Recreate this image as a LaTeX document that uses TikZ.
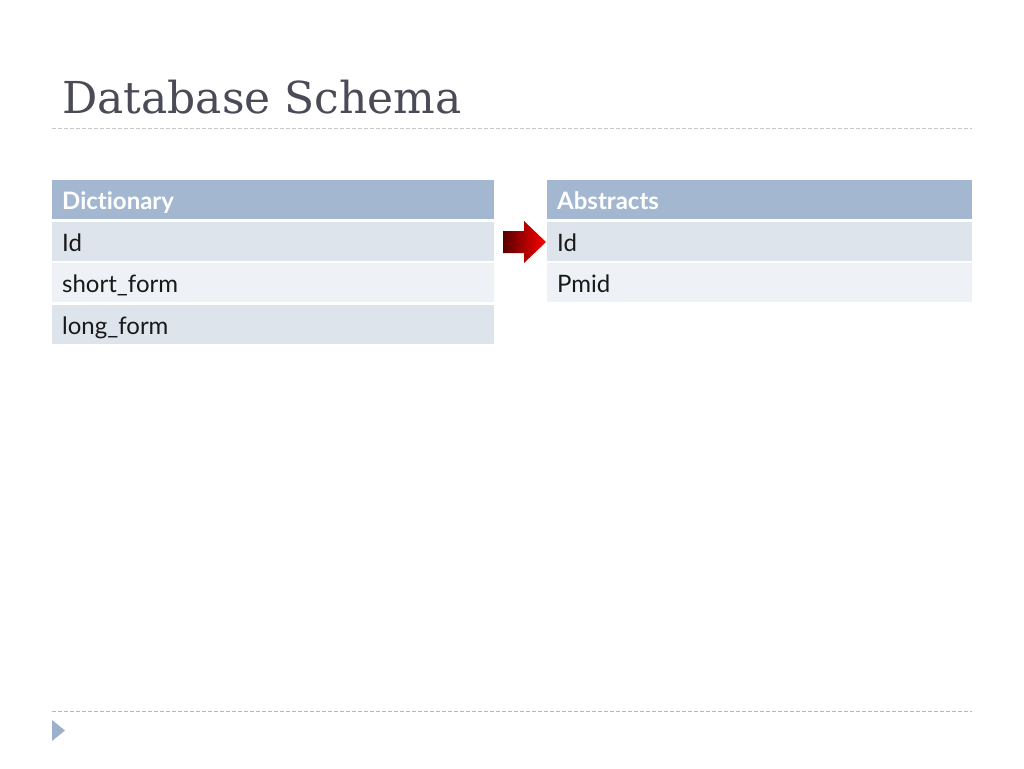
\documentclass[tikz,border=0pt]{standalone}
\usepackage{fontspec}
\setmainfont[Ligatures=NoCommon]{Lato}
\newfontfamily\titlefont{DejaVu Serif}
\definecolor{headblue}{HTML}{A3B8D0}
\definecolor{rowdark}{HTML}{DDE4EC}
\definecolor{rowlight}{HTML}{EEF1F5}
\definecolor{titlegray}{HTML}{4A4B57}
\definecolor{rulegray}{HTML}{C4C8CC}
\definecolor{ruleblue}{HTML}{A9BBCF}
\definecolor{bulletblue}{HTML}{9BB0CB}
\begin{document}
\begin{tikzpicture}[x=1pt, y=-1pt]
  \useasboundingbox[fill=white] (0, 0) rectangle (1024, 768);  % whole slide
  \tikzstyle{cell}=[anchor=west, inner xsep=10pt, inner ysep=0pt, minimum height=39pt, text height=20pt, text depth=0pt, align=left, font=\fontsize{24}{28}\selectfont, text=black!90]
  \tikzstyle{head}=[cell, fill=headblue, text=white, font=\fontsize{24}{28}\selectfont\bfseries]
  \tikzstyle{dark}=[cell, fill=rowdark]
  \tikzstyle{light}=[cell, fill=rowlight]
  \tikzstyle{lefttab}=[text width=422pt]
  \tikzstyle{righttab}=[text width=405pt]

  \node[anchor=base west, inner sep=0pt, text=titlegray, font=\titlefont\fontsize{44}{50}\selectfont] (title) at (62, 113) {Database Schema};
  \coordinate (topl) at (52, 128);
  \coordinate (topr) at (972, 128);
  \draw[rulegray, dash pattern=on 4pt off 2pt, line width=1pt] (topl) -- (topr);

  % Dictionary
  \node[head, lefttab] (dict) at (52, 199.5) {Dictionary};
  \node[dark, lefttab] (dictid) at (52, 241) {Id};
  \node[light, lefttab] (dictshort) at (52, 282.5) {short\_form};
  \node[dark, lefttab] (dictlong) at (52, 324) {long\_form};

  % Abstracts
  \node[head, righttab] (abs) at (547, 199.5) {Abstracts};
  \node[dark, righttab] (absid) at (547, 241) {Id};
  \node[light, righttab] (abspmid) at (547, 282.5) {Pmid};

  % Pfeil zwischen den Tabellen
  \shade[left color=red!35!black, right color=red]
    (503, 231) -- (524, 231) -- (524, 221) -- (546, 242) -- (524, 263) -- (524, 253) -- (503, 253) -- cycle;

  \coordinate (botl) at (52, 711);
  \coordinate (botr) at (972, 711);
  \draw[ruleblue, dash pattern=on 4pt off 2pt, line width=1pt] (botl) -- (botr);
  \fill[bulletblue] (52, 720) -- (65, 730.5) -- (52, 741) -- cycle;
\end{tikzpicture}
\end{document}
